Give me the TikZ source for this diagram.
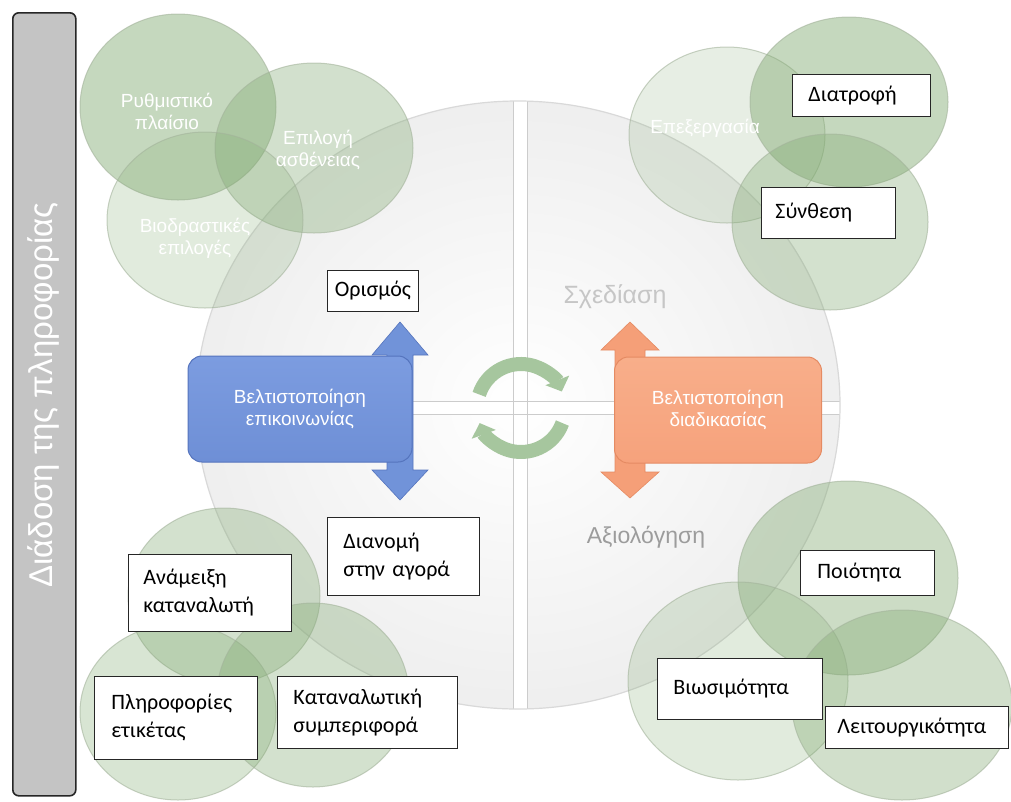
\documentclass[tikz,border=0pt]{standalone}
\usepackage{fontspec}
\setmainfont{Liberation Sans}
\newfontfamily\boxfont{Carlito}
\usetikzlibrary{arrows.meta,shapes.geometric}
\definecolor{gc}{HTML}{80A970}
\definecolor{gedge}{HTML}{A3B39B}
\definecolor{bluef}{HTML}{6E8FD6}
\definecolor{bluet}{HTML}{7C9CE0}
\definecolor{blueb}{HTML}{5574BD}
\definecolor{bluea}{HTML}{7193D9}
\definecolor{orf}{HTML}{F6A27C}
\definecolor{ort}{HTML}{F8AE8A}
\definecolor{orb}{HTML}{E58B63}
\definecolor{ora}{HTML}{F59F78}
\definecolor{arcg}{HTML}{A6C69E}
\definecolor{bargray}{HTML}{C4C4C4}
\definecolor{plangray}{HTML}{C6C6C6}
\definecolor{evalgray}{HTML}{9C9C9C}
\begin{document}
\begin{tikzpicture}[x=1pt,y=-1pt,
  gcirc/.style={ellipse, draw=gedge, draw opacity=0.6, line width=1pt, fill=gc, text opacity=1, inner sep=0pt},
  wtext/.style={text=white, align=center, font=\fontsize{19}{22}\selectfont, inner sep=0pt},
  tbox/.style={draw=black!85, line width=0.9pt, fill=white, anchor=north west, align=left,
    font=\boxfont\fontsize{22}{28}\selectfont, inner ysep=0pt},
  mainbox/.style={rounded corners=14pt, minimum height=106pt, text=white, align=center,
    font=\fontsize{19}{22}\selectfont, line width=1pt},
  cyclearc/.style={draw=arcg, line width=14pt, -{Triangle[width=25pt,length=12pt]}}
]
\useasboundingbox (0,0) rectangle (1011,801);
\fill[white] (0,0) rectangle (1011,801);

% central disc with four quadrants
\path[inner color=white, outer color=gray!13] (518,405) ellipse [x radius=322, y radius=304];
\begin{scope}
  \clip (518,405) ellipse [x radius=322, y radius=304];
  \fill[white] (513,90) rectangle (527,720);
  \fill[white] (190,401) rectangle (850,414);
  \draw[gray!40, line width=1pt] (513,90) -- (513,720) (527,90) -- (527,720)
        (190,401) -- (850,401) (190,414) -- (850,414);
  \fill[white] (513.6,401.6) rectangle (526.4,413.4);
\end{scope}
\draw[gray!30, line width=1.2pt] (518,405) ellipse [x radius=322, y radius=304];

% left bar
\node[draw=black!85, line width=1.6pt, fill=bargray, rounded corners=6pt, minimum width=63pt,
      minimum height=783pt, anchor=north west, inner sep=0pt] (bar) at (12,12) {};
\node[rotate=90, text=white, font=\fontsize{33}{36}\selectfont, inner sep=0pt] (bartext) at (43,395) {Διάδοση της πληροφορίας};

% green circles, top left
\node[gcirc, fill opacity=0.45, minimum width=196pt, minimum height=186pt] (cregul) at (178,107) {};
\node[gcirc, fill opacity=0.35, minimum width=198pt, minimum height=170pt] (cdisease) at (314,148) {};
\node[gcirc, fill opacity=0.23, minimum width=196pt, minimum height=176pt] (cbio) at (205,220) {};
% top right
\node[gcirc, fill opacity=0.19, minimum width=196pt, minimum height=176pt] (cproc) at (727,135) {};
\node[gcirc, fill opacity=0.45, minimum width=198pt, minimum height=170pt] (cnutr) at (849,102) {};
\node[gcirc, fill opacity=0.34, minimum width=196pt, minimum height=176pt] (csynth) at (830,222) {};
% bottom left
\node[gcirc, fill opacity=0.34, minimum width=192pt, minimum height=176pt] (cmix) at (224,596) {};
\node[gcirc, fill opacity=0.30, minimum width=196pt, minimum height=176pt] (clabel) at (178,712) {};
\node[gcirc, fill opacity=0.34, minimum width=192pt, minimum height=184pt] (cbehav) at (313,695) {};
% bottom right
\node[gcirc, fill opacity=0.40, minimum width=220pt, minimum height=194pt] (cqual) at (848,578) {};
\node[gcirc, fill opacity=0.23, minimum width=220pt, minimum height=198pt] (csust) at (738,681) {};
\node[gcirc, fill opacity=0.36, minimum width=220pt, minimum height=190pt] (cfunc) at (902,705) {};

% labels in the green circles
\node[wtext] (tregul) at (167,111) {Ρυθμιστικό\\πλαίσιο};
\node[wtext] (tdisease) at (318,150) {Επιλογή\\ασθένειας};
\node[wtext] (tbio) at (195,238) {Βιοδραστικές\\επιλογές};
\node[wtext] (tproc) at (705,128) {Επεξεργασία};

% cycle arrows
\coordinate (cyc) at (521,408);
\draw[cyclearc] (cyc) ++(198:44) arc[start angle=198, end angle=338, radius=44];
\draw[cyclearc] (cyc) ++(20:44) arc[start angle=20, end angle=160, radius=44];

% blue double arrow and box
\fill[bluea, draw=blueb, line width=0.6pt] (400,322) -- (428,355) -- (413,355) -- (413,470) -- (428,470)
   -- (400,500) -- (372,470) -- (387,470) -- (387,355) -- (372,355) -- cycle;
\node[mainbox, draw=blueb, top color=bluet, bottom color=bluef, minimum width=224pt] (bcomm) at (300,409)
   {Βελτιστοποίηση\\επικοινωνίας};

% orange double arrow and box
\fill[ora, draw=orb, line width=0.6pt] (630,322) -- (659,350) -- (645,350) -- (645,472) -- (659,472)
   -- (630,498) -- (601,472) -- (615,472) -- (615,350) -- (601,350) -- cycle;
\node[mainbox, draw=orb, top color=ort, bottom color=orf, minimum width=207pt] (bproc) at (718,410)
   {Βελτιστοποίηση\\διαδικασίας};

% quadrant titles
\node[text=plangray, font=\fontsize{25}{28}\selectfont, inner sep=0pt] (tplan) at (615,297) {Σχεδίαση};
\node[text=evalgray, font=\fontsize{23}{26}\selectfont, inner sep=0pt] (teval) at (646,537) {Αξιολόγηση};

% white text boxes
\node[tbox, align=center, inner xsep=3pt, text width=85pt, minimum height=41pt] (def) at (327,270) {Ορισμός};
\node[tbox, inner xsep=16pt, text width=106pt, minimum height=42pt] (nutr) at (792,74) {Διατροφή};
\node[tbox, inner xsep=14pt, text width=106pt, minimum height=51pt] (synth) at (761,187) {Σύνθεση};
\node[tbox, inner xsep=16pt, text width=120pt, minimum height=78pt] (distr) at (327,517) {Διανομή\\στην αγορά};
\node[tbox, inner xsep=15pt, text width=133pt, minimum height=77pt] (mix) at (128,554) {Ανάμειξη\\καταναλωτή};
\node[tbox, inner xsep=17pt, text width=129pt, minimum height=83pt] (label) at (94,676) {Πληροφορίες\\ετικέτας};
\node[tbox, inner xsep=16pt, text width=148pt, minimum height=72pt] (behav) at (277,676) {Καταναλωτική\\συμπεριφορά};
\node[tbox, inner xsep=17pt, text width=100pt, minimum height=45pt] (qual) at (800,550) {Ποιότητα};
\node[tbox, inner xsep=16pt, text width=133pt, minimum height=61pt] (sust) at (657,658) {Βιωσιμότητα};
\node[tbox, inner xsep=12pt, text width=159pt, minimum height=42pt] (func) at (825,706) {Λειτουργικότητα};
\end{tikzpicture}
\end{document}
